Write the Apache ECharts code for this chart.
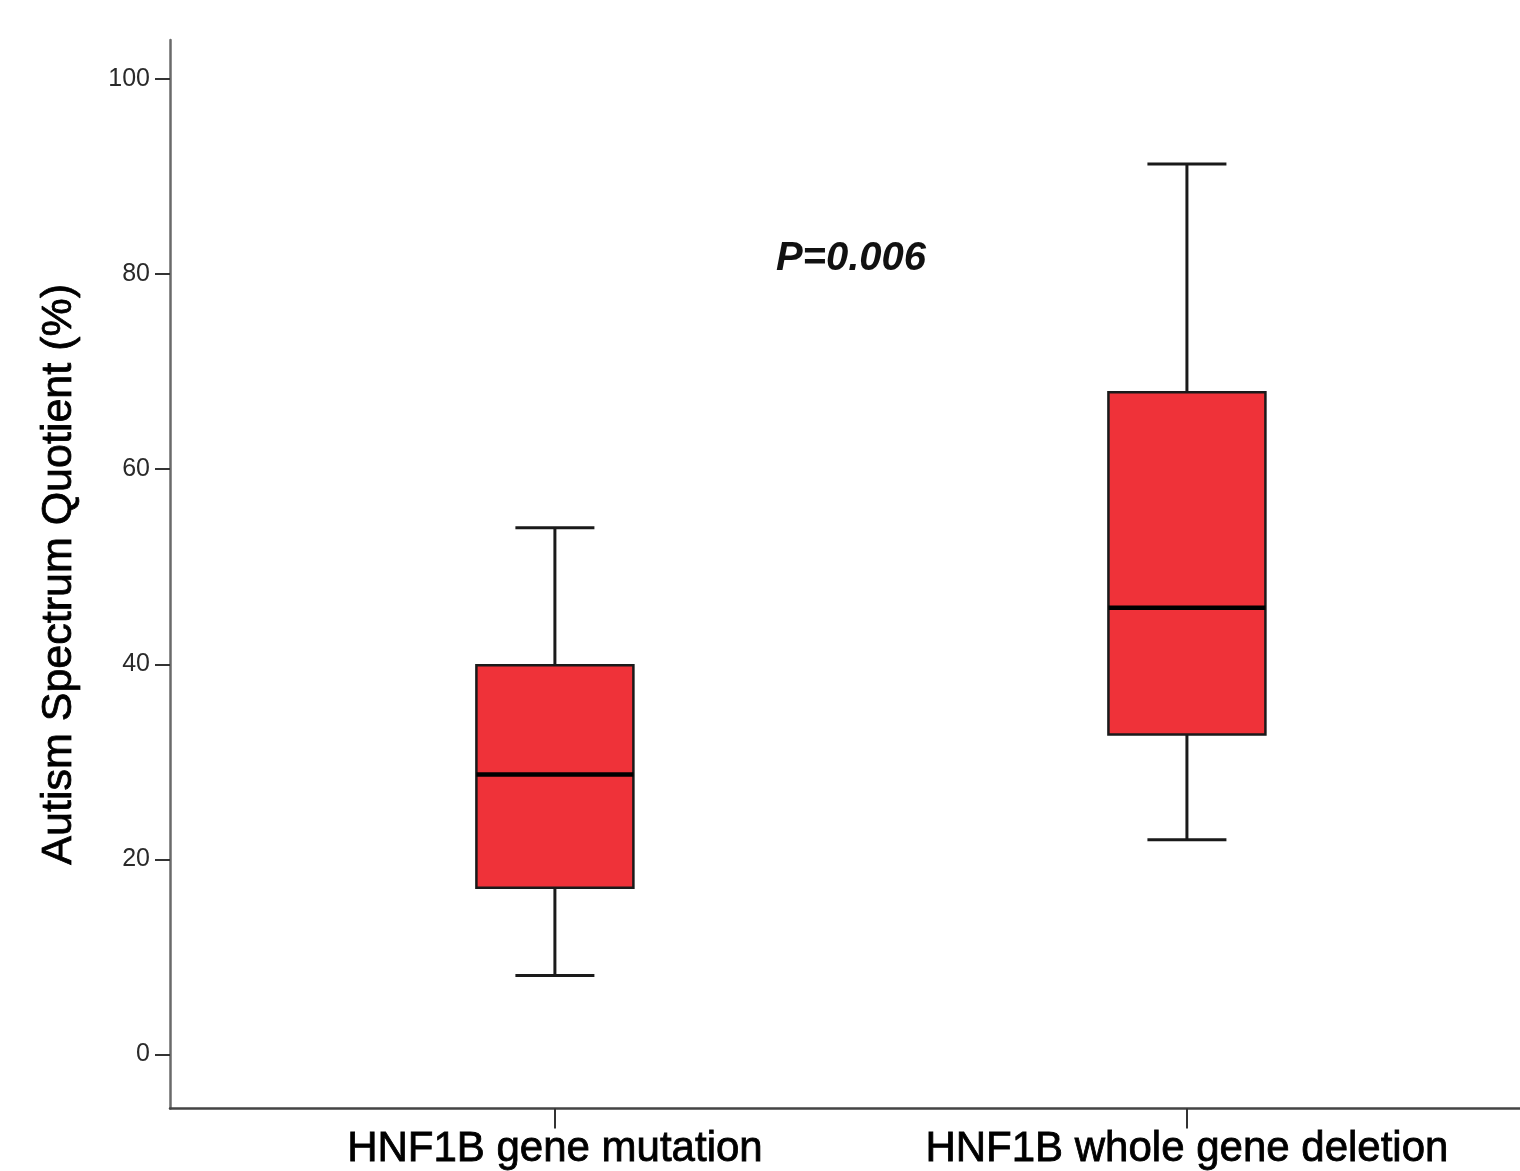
<!DOCTYPE html>
<html>
<head>
<meta charset="utf-8">
<script src="https://cdn.jsdelivr.net/npm/echarts@6/dist/echarts.min.js"></script>
<style>
  html, body { margin: 0; padding: 0; background: #ffffff; }
  #chart { width: 1520px; height: 1171px; }
</style>
</head>
<body>
<div id="chart"></div>
<script>
// ---- data ----
const categories = ['HNF1B gene mutation', 'HNF1B whole gene deletion'];
const categoryPositions = [1, 2];
const minValues    = [8.1, 22.0];
const q1Values     = [17.1, 32.8];
const medianValues = [28.7, 45.8];
const q3Values     = [39.9, 67.9];
const maxValues    = [54.0, 91.3];
const yTickValues  = [0, 20, 40, 60, 80, 100];
const annotation   = 'P=0.006';

const boxData = categoryPositions.map((p, i) =>
  [p, minValues[i], q1Values[i], medianValues[i], q3Values[i], maxValues[i]]);

const BOX_WIDTH = 0.2484; // in x-axis units
const CAP_WIDTH = 0.125;

const chart = echarts.init(document.getElementById('chart'), null, { renderer: 'canvas' });

const option = {
  backgroundColor: '#ffffff',
  animation: false,
  grid: { left: 170, right: 0, top: 40, bottom: 57, containLabel: false },
  xAxis: {
    type: 'value',
    min: 0.391,
    max: 2.527,
    splitLine: { show: false },
    axisLine: { onZero: false, lineStyle: { color: '#444', width: 2.5 } },
    axisTick: { show: true, customValues: categoryPositions, length: 20,
                lineStyle: { color: '#333', width: 2 } },
    axisLabel: {
      customValues: categoryPositions,
      formatter: v => categories[categoryPositions.indexOf(Math.round(v))] || '',
      color: '#000',
      fontFamily: 'Liberation Sans, Arial, sans-serif',
      fontSize: 42,
      margin: 20,
      textBorderColor: '#000',
      textBorderWidth: 0.8
    }
  },
  yAxis: {
    type: 'value',
    min: -5.55,
    max: 104.0,
    splitLine: { show: false },
    axisLine: { onZero: false, lineStyle: { color: '#6a6a6a', width: 2.5 } },
    axisTick: { show: true, customValues: yTickValues, length: 15,
                lineStyle: { color: '#333', width: 2 } },
    axisLabel: {
      customValues: yTickValues,
      color: '#2a2a2a',
      fontFamily: 'Liberation Sans, Arial, sans-serif',
      fontSize: 25,
      margin: 20
    },
    name: 'Autism Spectrum Quotient (%)',
    nameLocation: 'middle',
    nameGap: 89,
    nameTextStyle: {
      color: '#000',
      fontFamily: 'Liberation Sans, Arial, sans-serif',
      fontSize: 43,
      textBorderColor: '#000',
      textBorderWidth: 0.8
    }
  },
  graphic: [{
    type: 'text',
    x: 851,
    y: 259,
    style: {
      text: annotation,
      font: 'italic bold 40px "Liberation Sans", Arial, sans-serif',
      fill: '#111',
      align: 'center',
      verticalAlign: 'middle'
    }
  }],
  series: [{
    type: 'custom',
    data: boxData,
    encode: { x: 0, y: [1, 2, 3, 4, 5] },
    renderItem: function (params, api) {
      const x = api.value(0);
      const pMin = api.coord([x, api.value(1)]);
      const pQ1 = api.coord([x, api.value(2)]);
      const pMed = api.coord([x, api.value(3)]);
      const pQ3 = api.coord([x, api.value(4)]);
      const pMax = api.coord([x, api.value(5)]);
      const bw = api.size([BOX_WIDTH, 0])[0];
      const cw = api.size([CAP_WIDTH, 0])[0];
      const cx = pMed[0];
      const lineStyle = { stroke: '#1a1a1a', lineWidth: 3 };
      return {
        type: 'group',
        children: [
          { type: 'line', shape: { x1: cx, y1: pQ3[1], x2: cx, y2: pMax[1] }, style: lineStyle },
          { type: 'line', shape: { x1: cx, y1: pQ1[1], x2: cx, y2: pMin[1] }, style: lineStyle },
          { type: 'line', shape: { x1: cx - cw / 2, y1: pMax[1], x2: cx + cw / 2, y2: pMax[1] }, style: lineStyle },
          { type: 'line', shape: { x1: cx - cw / 2, y1: pMin[1], x2: cx + cw / 2, y2: pMin[1] }, style: lineStyle },
          { type: 'rect', shape: { x: cx - bw / 2, y: pQ3[1], width: bw, height: pQ1[1] - pQ3[1] },
            style: { fill: '#EF3239', stroke: '#1a1a1a', lineWidth: 2.5 } },
          { type: 'line', shape: { x1: cx - bw / 2, y1: pMed[1], x2: cx + bw / 2, y2: pMed[1] },
            style: { stroke: '#000', lineWidth: 4.5 } }
        ]
      };
    }
  }]
};

chart.setOption(option);
</script>
</body>
</html>
